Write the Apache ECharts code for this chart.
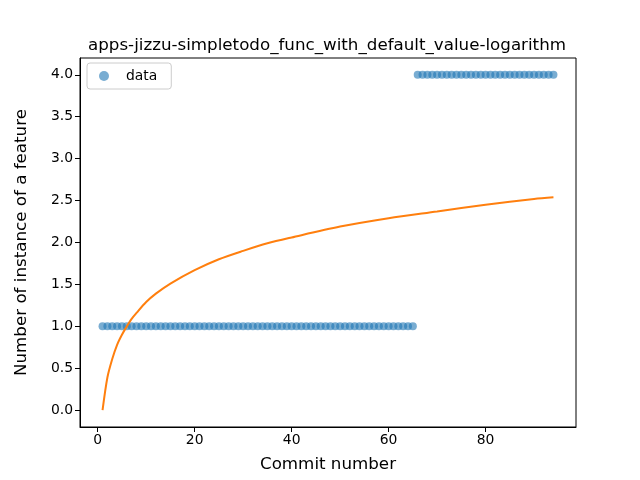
<!DOCTYPE html>
<html>
<head>
<meta charset="utf-8">
<script src="https://cdn.jsdelivr.net/npm/echarts@6/dist/echarts.min.js"></script>
<style>
  html, body { margin: 0; padding: 0; background: #fff; }
  #chart { width: 640px; height: 480px; }
</style>
</head>
<body>
<div id="chart"></div>
<script>
// commit numbers and feature counts
var commits = [
  1, 2, 3, 4, 5, 6, 7, 8, 9, 10, 11, 12, 13, 14, 15, 16, 17, 18, 19, 20,
  21, 22, 23, 24, 25, 26, 27, 28, 29, 30, 31, 32, 33, 34, 35, 36, 37, 38, 39, 40,
  41, 42, 43, 44, 45, 46, 47, 48, 49, 50, 51, 52, 53, 54, 55, 56, 57, 58, 59, 60,
  61, 62, 63, 64, 65, 66, 67, 68, 69, 70, 71, 72, 73, 74, 75, 76, 77, 78, 79, 80,
  81, 82, 83, 84, 85, 86, 87, 88, 89, 90, 91, 92, 93, 94
];
var counts = [
  1, 1, 1, 1, 1, 1, 1, 1, 1, 1, 1, 1, 1, 1, 1, 1, 1, 1, 1, 1,
  1, 1, 1, 1, 1, 1, 1, 1, 1, 1, 1, 1, 1, 1, 1, 1, 1, 1, 1, 1,
  1, 1, 1, 1, 1, 1, 1, 1, 1, 1, 1, 1, 1, 1, 1, 1, 1, 1, 1, 1,
  1, 1, 1, 1, 1, 4, 4, 4, 4, 4, 4, 4, 4, 4, 4, 4, 4, 4, 4, 4,
  4, 4, 4, 4, 4, 4, 4, 4, 4, 4, 4, 4, 4, 4
];

// orange fitted curve
var fitX = [1, 2, 3, 4, 5, 6, 7, 8, 10, 12, 15, 20, 25, 30, 35, 40, 50, 60, 70, 80, 90, 94];
var fitY = [0, 0.39, 0.61, 0.78, 0.90, 1.00, 1.09, 1.16, 1.29, 1.39, 1.51, 1.67, 1.80, 1.90, 1.99, 2.06, 2.19, 2.29, 2.37, 2.45, 2.52, 2.54];

var xTicks = [0, 20, 40, 60, 80];
var yTicks = [0, 0.5, 1, 1.5, 2, 2.5, 3, 3.5, 4];

var myChart = echarts.init(document.getElementById('chart'));

var scatterData = commits.map(function (c, i) { return [c, counts[i]]; });
var fitData = fitX.map(function (x, i) { return [x, fitY[i]]; });

var font = 'DejaVu Sans';

var option = {
    animation: false,
    backgroundColor: '#fff',
    title: {
        text: 'apps-jizzu-simpletodo_func_with_default_value-logarithm',
        left: 83,
        top: 32,
        textStyle: { fontFamily: font, fontSize: 16.7, fontWeight: 'normal', color: '#000' }
    },
    legend: {
        left: 87,
        top: 63,
        data: [{ name: 'data', icon: 'circle', itemStyle: { opacity: 0.6 } }],
        itemWidth: 10,
        itemHeight: 10,
        itemGap: 10,
        padding: [6, 14, 6, 12],
        borderColor: '#ccc',
        borderWidth: 1,
        borderRadius: 3,
        textStyle: { fontFamily: font, fontSize: 13.9, color: '#000', padding: [0, 0, 0, 12] }
    },
    grid: {
        left: 80, right: 64, top: 58, bottom: 53,
        show: true, borderColor: '#000', borderWidth: 1
    },
    xAxis: {
        type: 'value',
        min: -3.65,
        max: 98.65,
        name: 'Commit number',
        nameLocation: 'middle',
        nameGap: 29,
        nameTextStyle: { fontFamily: font, fontSize: 16.7, color: '#000' },
        axisLine: { show: true, onZero: false, lineStyle: { color: '#000' } },
        axisTick: { show: true, inside: false, length: 5, lineStyle: { color: '#000' }, customValues: xTicks },
        axisLabel: { color: '#000', fontFamily: font, fontSize: 13.9, margin: 6, customValues: xTicks },
        splitLine: { show: false }
    },
    yAxis: {
        type: 'value',
        min: -0.2,
        max: 4.2,
        name: 'Number of instance of a feature',
        nameLocation: 'middle',
        nameGap: 50,
        nameTextStyle: { fontFamily: font, fontSize: 16.7, color: '#000' },
        axisLine: { show: true, onZero: false, lineStyle: { color: '#000' } },
        axisTick: { show: true, inside: false, length: 5, lineStyle: { color: '#000' }, customValues: yTicks },
        axisLabel: {
            color: '#000', fontFamily: font, fontSize: 13.9, margin: 7, customValues: yTicks,
            formatter: function (v) { return v.toFixed(1); }
        },
        splitLine: { show: false }
    },
    series: [
        {
            name: 'data',
            type: 'scatter',
            symbolSize: 8,
            data: scatterData,
            itemStyle: { color: '#1f77b4', opacity: 0.6 }
        },
        {
            name: 'fit',
            type: 'line',
            data: fitData,
            smooth: 0.3,
            showSymbol: false,
            lineStyle: { color: '#ff7f0e', width: 2 },
            itemStyle: { color: '#ff7f0e' }
        }
    ]
};

myChart.setOption(option);
</script>
</body>
</html>
